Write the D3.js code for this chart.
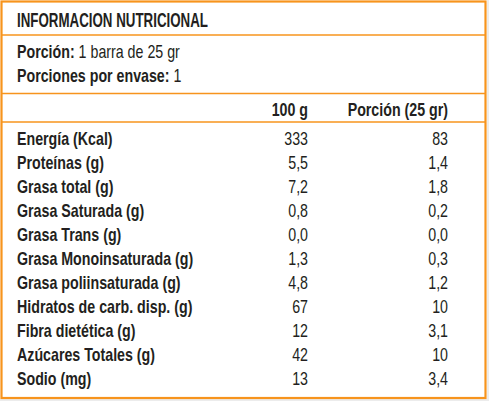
<!DOCTYPE html>
<html><head><meta charset="utf-8">
<script src="https://cdn.jsdelivr.net/npm/d3@7"></script>
<style>
html,body{margin:0;padding:0;background:#fff;}
svg{display:block;}
text{font-family:"Liberation Sans",Arial,sans-serif;fill:#231f20;}
</style></head><body>
<script>
const title = "INFORMACION NUTRICIONAL";
const servingLines = [["Porción:", " 1 barra de 25 gr"], ["Porciones por envase:", " 1"]];
const columnHeaders = ["100 g", "Porción (25 gr)"];
const nutrients = ["Energía (Kcal)", "Proteínas (g)", "Grasa total (g)", "Grasa Saturada (g)", "Grasa Trans (g)",
  "Grasa Monoinsaturada (g)", "Grasa poliinsaturada (g)", "Hidratos de carb. disp. (g)", "Fibra dietética (g)",
  "Azúcares Totales (g)", "Sodio (mg)"];
const per100 = ["333", "5,5", "7,2", "0,8", "0,0", "1,3", "4,8", "67", "12", "42", "13"];
const perPortion = ["83", "1,4", "1,8", "0,2", "0,0", "0,3", "1,2", "10", "3,1", "10", "3,4"];

const W = 489, H = 401;
const orange = "#f7941d";
const SX = 0.79, FS = 18;
const svg = d3.select("body").append("svg").attr("width", W).attr("height", H);

svg.append("rect").attr("x", 487).attr("y", 0).attr("width", 2).attr("height", H).attr("fill", "#ececec");
svg.append("rect").attr("x", 0).attr("y", 399).attr("width", W).attr("height", 2).attr("fill", "#ececec");

// frame
svg.append("rect").attr("x", 1.5).attr("y", 1.5).attr("width", 484).attr("height", 396.5)
  .attr("fill", "#fff").attr("stroke", orange).attr("stroke-width", 2.2);
[35, 93.5, 122].forEach(y => svg.append("line").attr("x1", 1).attr("x2", 486).attr("y1", y).attr("y2", y)
  .attr("stroke", orange).attr("stroke-width", 1.6));

function label(parent, x, y, size, weight, anchor) {
  return parent.append("g").attr("transform", `translate(${x},${y}) scale(${SX},1)`)
    .append("text").attr("font-size", size).attr("font-weight", weight).attr("text-anchor", anchor);
}

// title
svg.append("text").attr("x", 17).attr("y", 27).attr("font-size", 19.5).attr("font-weight", "bold")
  .attr("textLength", 191).attr("lengthAdjust", "spacingAndGlyphs").text(title);

// serving lines
const sy = d3.scalePoint().domain(d3.range(servingLines.length)).range([58, 82]);
servingLines.forEach((p, i) => {
  const t = label(svg, 17, sy(i), FS, "normal", "start");
  t.append("tspan").attr("font-weight", "bold").text(p[0]);
  t.append("tspan").text(p[1]);
});

// columns
const colX = d3.scaleOrdinal().domain([0, 1]).range([308, 448]);
columnHeaders.forEach((h, i) => label(svg, colX(i), 116, FS, "bold", "end").text(h));

const y = d3.scalePoint().domain(nutrients).range([145, 385]);
nutrients.forEach((d, i) => {
  label(svg, 17, y(d), FS, "bold", "start").text(d);
  label(svg, colX(0), y(d), FS, "normal", "end").text(per100[i]);
  label(svg, colX(1), y(d), FS, "normal", "end").text(perPortion[i]);
});
</script>
</body></html>
